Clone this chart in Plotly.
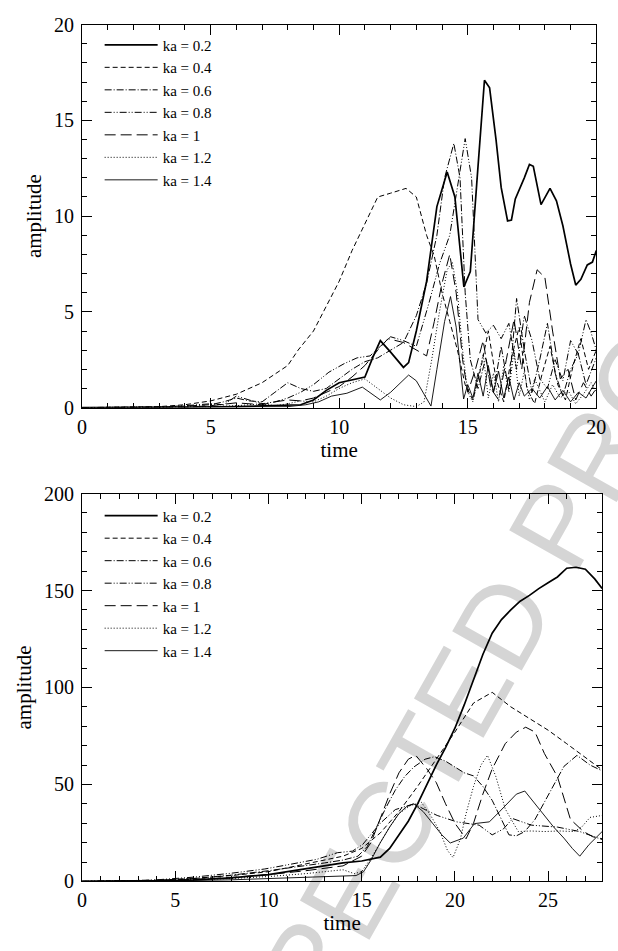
import math
import plotly.graph_objects as go

W, H = 618, 951

labels = ["ka = 0.2", "ka = 0.4", "ka = 0.6", "ka = 0.8", "ka = 1", "ka = 1.2", "ka = 1.4"]

# ---------------- top panel (time 0..20) ----------------
top_t_02 = [0, 2, 4, 6, 7, 8, 8.5, 9, 9.5, 10, 10.5, 11, 11.3, 11.6, 12.0, 12.5, 12.7, 13.0, 13.4, 13.8, 14.2, 14.5, 14.85, 15.1, 15.35, 15.65, 15.85, 16.1, 16.3, 16.55, 16.7, 16.85, 17.2, 17.4, 17.55, 17.85, 18.2, 18.45, 18.7, 19.0, 19.2, 19.4, 19.65, 19.85, 20]
top_a_02 = [0, 0, 0.02, 0.05, 0.08, 0.1, 0.15, 0.4, 0.9, 1.3, 1.45, 1.6, 2.6, 3.5, 2.9, 2.1, 2.35, 4.0, 6.6, 10.5, 12.3, 11.0, 6.3, 7.1, 11.7, 17.1, 16.7, 14.0, 11.5, 9.75, 9.8, 10.9, 12.0, 12.7, 12.6, 10.6, 11.45, 10.8, 9.5, 7.5, 6.4, 6.7, 7.45, 7.6, 8.2]

top_t_04 = [0, 2, 3, 4, 5, 6, 7, 8, 8.4, 9, 9.5, 10, 10.5, 11, 11.5, 12, 12.6, 13.0, 13.4, 13.7, 14.0, 14.3, 14.6, 14.9, 15.2, 15.5, 15.8, 16.1, 16.4, 16.7, 17.0, 17.3, 17.6, 17.9, 18.2, 18.5, 18.8, 19.1, 19.4, 19.7, 20]
top_a_04 = [0, 0.02, 0.05, 0.15, 0.35, 0.7, 1.3, 2.2, 3.0, 4.0, 5.3, 6.6, 8.2, 9.6, 11.0, 11.2, 11.45, 11.0, 9.0, 7.9, 6.0, 4.5, 3.0, 1.2, 0.4, 2.0, 4.0, 1.5, 0.3, 2.6, 4.2, 1.0, 0.2, 1.8, 3.2, 1.2, 0.4, 2.2, 3.6, 2.0, 3.0]

top_t_06 = [0, 3, 4, 5, 5.5, 6, 6.5, 7, 7.5, 8, 8.5, 9, 9.5, 10, 10.5, 11, 11.5, 12, 12.5, 13, 13.4, 13.8, 14.1, 14.46, 14.7, 14.9, 15.1, 15.4, 15.7, 16.0, 16.3, 16.6, 16.9, 17.2, 17.5, 17.8, 18.1, 18.4, 18.7, 19.0, 19.3, 19.6, 20]
top_a_06 = [0, 0.02, 0.08, 0.15, 0.3, 0.5, 0.35, 0.3, 0.8, 1.3, 1.0, 0.85, 1.0, 1.5, 2.0, 2.4, 2.6, 3.0, 3.4, 4.8, 6.5, 9.0, 12.0, 13.8, 12.0, 6.0, 2.5, 1.0, 2.6, 0.8, 3.2, 0.9, 5.7, 3.0, 0.8, 2.5, 4.4, 1.8, 0.6, 2.0, 2.8, 1.2, 2.6]

top_t_08 = [0, 3, 4, 5, 5.5, 6, 6.5, 7, 7.5, 8, 8.5, 9, 9.6, 10.2, 10.7, 11.2, 11.6, 12.0, 12.5, 13.0, 13.5, 13.9, 14.3, 14.6, 14.9, 15.15, 15.4, 15.7, 16.0, 16.3, 16.6, 16.9, 17.2, 17.5, 17.8, 18.1, 18.4, 18.7, 19.0, 19.3, 19.6, 19.8, 20]
top_a_08 = [0, 0.03, 0.1, 0.2, 0.15, 0.6, 0.4, 0.2, 0.3, 0.5, 0.8, 1.2, 1.85, 2.3, 2.6, 2.7, 3.2, 3.7, 3.5, 3.2, 5.5, 7.5, 9.0, 11.5, 14.05, 12.0, 4.6, 3.9, 4.3, 3.6, 4.4, 2.0, 4.8, 3.5, 1.5, 1.0, 2.5, 1.4, 3.5, 2.8, 4.6, 3.9, 3.0]

top_t_10 = [0, 4, 5, 6, 7, 7.5, 8, 8.5, 9, 9.5, 10, 10.5, 11, 11.5, 11.9, 12.5, 13.0, 13.4, 13.7, 14.0, 14.3, 14.55, 14.8, 15.0, 15.3, 15.6, 15.9, 16.2, 16.5, 16.8, 17.1, 17.4, 17.7, 18.0, 18.3, 18.6, 18.9, 19.2, 19.5, 19.8, 20]
top_a_10 = [0, 0.02, 0.1, 0.25, 0.15, 0.3, 0.4, 0.35, 0.5, 0.8, 1.1, 1.6, 2.2, 3.0, 3.6, 3.4, 3.0, 2.7, 4.5, 6.5, 8.0, 6.0, 2.5, 0.8, 2.0, 3.5, 1.0, 0.4, 2.5, 4.6, 2.0, 5.5, 7.2, 6.8, 4.0, 1.5, 2.0, 0.4, 1.3, 0.6, 1.0]

top_t_12 = [0, 4, 5, 6, 7, 7.5, 8, 8.5, 9, 9.5, 10, 10.5, 11, 11.5, 12, 12.5, 13, 13.3, 13.6, 13.9, 14.2, 14.4, 14.6, 14.8, 15.0, 15.2, 15.4, 15.6, 15.8, 16.0, 16.2, 16.4, 16.6, 16.8, 17.0, 17.2, 17.4, 17.6, 17.8, 18.0, 18.3, 18.6, 18.9, 19.2, 19.5, 19.8, 20]
top_a_12 = [0, 0.01, 0.05, 0.1, 0.2, 0.1, 0.2, 0.35, 0.3, 0.6, 1.0, 1.3, 1.5, 1.0, 0.5, 0.15, 0.05, 0.3, 2.5, 5.0, 7.2, 7.6, 6.0, 3.0, 0.8, 0.3, 1.5, 2.8, 0.5, 1.8, 0.3, 2.2, 0.8, 3.0, 0.6, 1.9, 0.4, 1.5, 0.9, 0.3, 1.2, 0.5, 0.9, 0.2, 0.7, 1.3, 0.8]

top_t_14 = [0, 4, 6, 8, 8.7, 9.2, 9.7, 10.3, 10.9, 11.2, 11.6, 12.0, 12.4, 12.7, 13.0, 13.3, 13.57, 13.8, 14.1, 14.33, 14.55, 14.84, 15.0, 15.2, 15.4, 15.6, 15.8, 16.0, 16.2, 16.4, 16.6, 16.8, 17.0, 17.2, 17.5, 17.8, 18.1, 18.4, 18.7, 19.0, 19.3, 19.6, 20]
top_a_14 = [0, 0.01, 0.02, 0.05, 0.15, 0.3, 0.6, 0.75, 1.07, 0.8, 0.4, 0.8, 1.3, 1.7, 1.4, 0.7, 0.08, 2.0, 4.5, 5.8, 4.2, 0.45, 1.2, 0.5, 1.8, 0.6, 2.2, 0.8, 1.9, 0.5, 1.6, 0.4, 1.3, 0.6, 1.0, 0.5, 1.1, 0.4, 0.9, 0.3, 0.8, 0.5, 1.4]

# ---------------- bottom panel (time 0..27.9) ----------------
bot_t_02 = [0, 2, 4, 6, 8, 10, 11, 12, 13, 14, 15, 15.5, 16, 16.5, 17, 17.5, 18, 18.5, 19, 19.5, 20, 20.5, 21, 21.5, 22, 22.5, 23, 23.5, 24, 24.5, 25, 25.5, 26, 26.5, 27, 27.5, 27.9]
bot_a_02 = [0, 0.1, 0.3, 0.8, 1.8, 3.5, 5, 6.5, 8, 9.5, 10.5, 11.5, 12.5, 17, 24, 31, 40, 50, 60, 69, 79, 91, 104, 117, 128, 135, 140, 144.5, 147.5, 151, 154, 157, 161.5, 162, 161, 156, 151]

bot_t_04 = [0, 2, 4, 6, 8, 10, 11, 12, 13, 14, 15, 16, 17, 18, 19, 20, 21, 22, 23, 24, 25, 26, 27, 27.9]
bot_a_04 = [0, 0.2, 0.6, 1.5, 3, 5, 7, 9, 11, 13, 17, 25, 36, 49, 63, 77, 92, 97.5, 90, 84, 78, 71, 64, 57.5]

bot_t_06 = [0, 2, 4, 6, 8, 10, 12, 13, 14, 14.8, 15.3, 15.8, 16.3, 16.8, 17.3, 17.8, 18.4, 18.9, 19.5, 20, 20.5, 21, 21.5, 22, 22.5, 22.9, 23.3, 23.75, 24.3, 24.8, 25.3, 25.85, 26.55, 27.25, 27.9]
bot_a_06 = [0, 0.1, 0.5, 1.5, 3.2, 5.5, 8, 9.5, 11, 13, 18, 28, 38, 47, 54, 59, 63, 64.3, 62, 59, 56, 54.4, 49, 41.8, 32, 24, 23.5, 25.7, 32, 40.8, 50, 59.3, 65, 60, 57]

bot_t_08 = [0, 2, 4, 6, 8, 9.8, 11, 12.6, 13.7, 14.5, 15.05, 15.5, 16, 16.8, 17.8, 18.4, 19.05, 20.1, 21.3, 22, 22.6, 23.1, 24.1, 25.5, 26.7, 27.9]
bot_a_08 = [0, 0.2, 0.8, 2.2, 4.2, 6.4, 8.5, 11.4, 14.8, 15.6, 19, 24, 30, 37, 40, 37, 34, 30.7, 29, 24, 27, 32.4, 29, 28, 25.7, 21.6]

bot_t_10 = [0, 2, 4, 6, 8, 10, 12, 14, 15, 15.5, 16, 16.5, 17, 17.5, 17.9, 18.5, 19, 19.5, 20, 20.6, 21, 21.5, 22, 22.7, 23.3, 23.8, 24.3, 24.8, 25.5, 26.2, 26.9, 27.4, 27.9]
bot_a_10 = [0, 0.1, 0.4, 1.0, 2.0, 3.5, 5.5, 8, 13, 20, 33, 45, 56, 63, 65, 58, 51, 40, 30, 22, 30, 45, 58, 71, 77, 79.5, 77, 66, 54, 32, 25.7, 23, 22]

bot_t_12 = [0, 4, 8, 10, 12, 13, 14, 14.6, 15, 15.5, 16, 16.5, 17, 17.6, 18.2, 18.7, 19.2, 19.6, 19.9, 20.3, 20.6, 21, 21.4, 21.75, 22.2, 22.7, 23.4, 24.1, 24.8, 25.6, 26.4, 26.8, 27.25, 27.9]
bot_a_12 = [0, 0.3, 1.5, 2.5, 4, 5, 6, 4, 5, 12, 20, 28, 35, 39, 40.8, 34, 25.7, 16, 12.3, 22, 35, 49, 60, 65, 54, 37.4, 25.7, 26, 25.7, 26, 25.7, 28, 33, 34]

bot_t_14 = [0, 4, 8, 10, 12, 13, 14, 14.7, 15.1, 15.5, 16, 16.5, 17, 17.4, 17.8, 18.3, 18.8, 19.3, 19.75, 20.45, 21.05, 21.85, 22.4, 22.9, 23.3, 23.75, 24.3, 24.8, 25.3, 25.85, 26.3, 26.7, 27.2, 27.9]
bot_a_14 = [0, 0.2, 0.8, 1.5, 2.2, 2.5, 2.8, 3.0, 5, 11, 20, 28, 35, 38.5, 40, 36, 30, 24, 19.8, 22.3, 29.8, 30.7, 36, 40.8, 45, 46.6, 40, 34, 28, 22.3, 17, 13, 19, 25.7]

top_series = [(top_t_02, top_a_02), (top_t_04, top_a_04), (top_t_06, top_a_06), (top_t_08, top_a_08),
              (top_t_10, top_a_10), (top_t_12, top_a_12), (top_t_14, top_a_14)]
bot_series = [(bot_t_02, bot_a_02), (bot_t_04, bot_a_04), (bot_t_06, bot_a_06), (bot_t_08, bot_a_08),
              (bot_t_10, bot_a_10), (bot_t_12, bot_a_12), (bot_t_14, bot_a_14)]

dashes = ["solid", "5px,3px", "7px,2px,1px,2px", "7px,2px,1px,2px,1px,2px", "11px,5px", "1px,2px", "solid"]
widths = [1.7, 1, 1, 1, 1, 1, 0.9]

fig = go.Figure()
for i, (t, a) in enumerate(top_series):
    fig.add_trace(go.Scatter(x=t, y=a, mode="lines", name=labels[i],
                             line=dict(color="black", width=widths[i], dash=dashes[i]),
                             xaxis="x", yaxis="y", legend="legend", legendgroup="t%d" % i))
for i, (t, a) in enumerate(bot_series):
    fig.add_trace(go.Scatter(x=t, y=a, mode="lines", name=labels[i],
                             line=dict(color="black", width=widths[i], dash=dashes[i]),
                             xaxis="x2", yaxis="y2", legend="legend2", legendgroup="b%d" % i))


def px_x(p):
    return p / W


def px_y(p):
    return 1 - p / H


serif = "Liberation Serif"
tickfont = dict(family=serif, size=20, color="black")
titlefont = dict(family=serif, size=21, color="black")

common = dict(showline=True, linecolor="black", linewidth=1, mirror="ticks", ticks="inside",
              ticklen=10, tickwidth=1, tickcolor="black", showgrid=False, zeroline=False,
              tickfont=tickfont)
minor_common = dict(ticklen=5, ticks="inside", tickcolor="black", tickwidth=1)

fig.update_layout(
    width=W, height=H, margin=dict(l=0, r=0, t=0, b=0),
    paper_bgcolor="white", plot_bgcolor="rgba(0,0,0,0)",
    xaxis=dict(domain=[px_x(79), px_x(606)], anchor="y", range=[0, 20], dtick=5, tick0=0,
               minor=dict(dtick=1, **minor_common), ticklabelstandoff=1,
               title=dict(text="time", font=titlefont, standoff=3), **common),
    yaxis=dict(domain=[px_y(406), px_y(14)], anchor="x", range=[0, 20], dtick=5, tick0=0,
               minor=dict(dtick=1, **minor_common), ticklabelstandoff=3,
               title=dict(text="amplitude", font=titlefont, standoff=6), **common),
    xaxis2=dict(domain=[px_x(79), px_x(612)], anchor="y2", range=[0, 27.9], dtick=5, tick0=0,
                minor=dict(dtick=1, **minor_common), ticklabelstandoff=1,
                title=dict(text="time", font=titlefont, standoff=4), **common),
    yaxis2=dict(domain=[px_y(891), px_y(494)], anchor="x2", range=[0, 200], dtick=50, tick0=0,
                minor=dict(dtick=10, **minor_common), ticklabelstandoff=3,
                title=dict(text="amplitude", font=titlefont, standoff=6), **common),
    legend=dict(x=px_x(97), y=px_y(18), xanchor="left", yanchor="top", bgcolor="rgba(0,0,0,0)",
                font=dict(family=serif, size=15, color="black"), itemwidth=53,
                traceorder="grouped", tracegroupgap=0),
    legend2=dict(x=px_x(97), y=px_y(500), xanchor="left", yanchor="top", bgcolor="rgba(0,0,0,0)",
                 font=dict(family=serif, size=15, color="black"), itemwidth=53,
                 traceorder="grouped", tracegroupgap=0),
    showlegend=True,
)

# faint diagonal proof watermark, drawn beneath the curves
cx, cy = 406, 787
ang = math.radians(60.5)
dx, dy = 150 * math.cos(ang), 150 * math.sin(ang)
fig.add_shape(type="line", xref="paper", yref="paper", layer="below",
              x0=px_x(cx - dx), y0=px_y(cy + dy), x1=px_x(cx + dx), y1=px_y(cy - dy),
              line=dict(width=0, color="rgba(0,0,0,0)"),
              label=dict(text="UNCORRECTED PROOF", textposition="middle", yanchor="middle",
                         xanchor="center",
                         font=dict(family="Liberation Sans", size=116, color="#d5d5d5")))

fig.write_html("out.html")
